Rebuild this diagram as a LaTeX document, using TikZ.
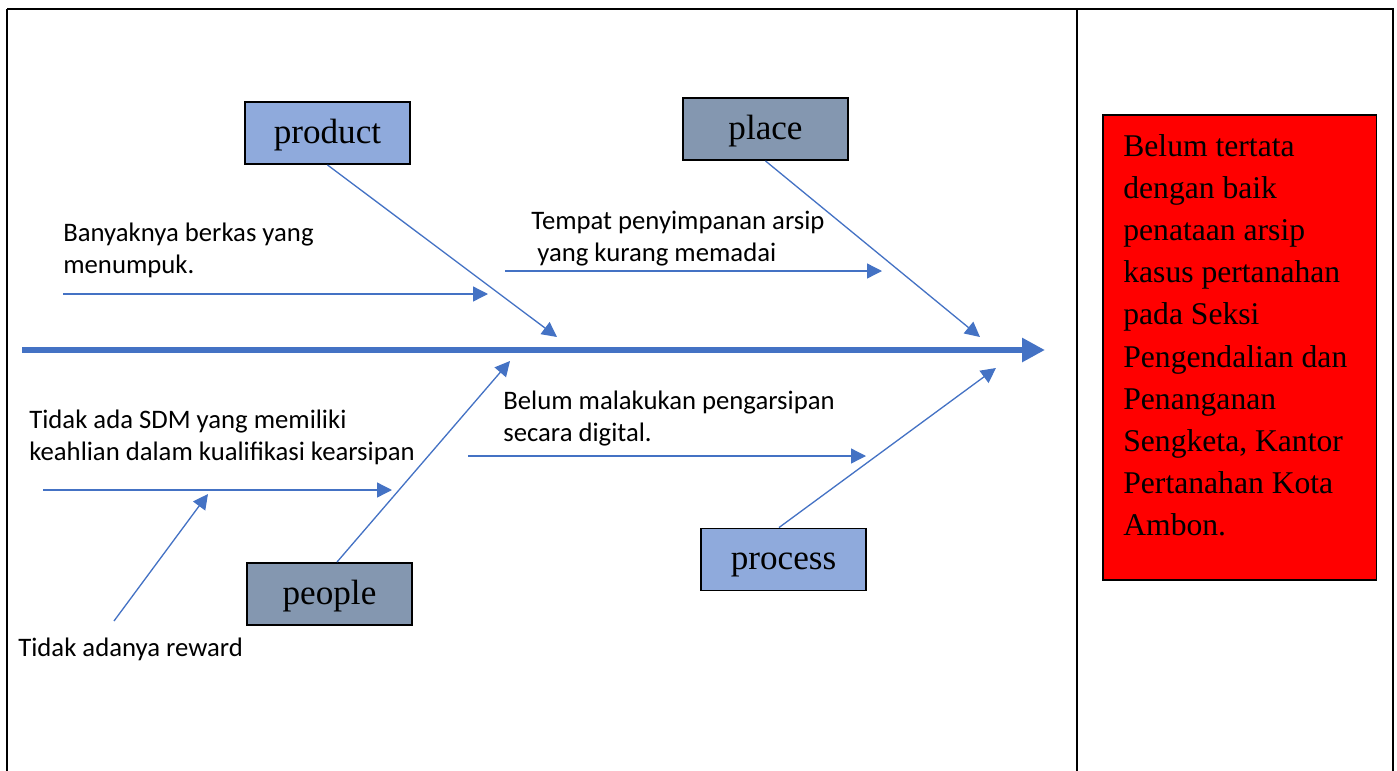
\documentclass[tikz,border=0pt]{standalone}
\usepackage{fontspec}
\setmainfont{Liberation Serif}
\newfontfamily\calibri{Carlito}
\usetikzlibrary{arrows.meta}
\definecolor{bonecol}{HTML}{4472C4}
\definecolor{lightcat}{HTML}{8FAADC}
\definecolor{darkcat}{HTML}{8497B0}

\begin{document}
\begin{tikzpicture}[x=0.02cm, y=-0.02cm]
        \tikzstyle{cause}=[rectangle,draw=black,line width=1.1pt,minimum width=3.3cm,minimum height=1.24cm,inner sep=0pt,text height=0.5cm,text depth=0.1cm,font=\fontsize{20}{24}\selectfont]
        \tikzstyle{bone}=[draw=bonecol,line width=0.75pt,-{Triangle[length=8.5pt,width=8.5pt]}]
        \tikzstyle{note}=[anchor=north west,inner sep=0pt,align=left,font=\calibri\fontsize{15.2}{18}\selectfont]

        % frame of the table
        \useasboundingbox (0,0) rectangle (1397,771);
        \draw[line width=1.7pt] (7,9) -- (1394,9);
        \draw[line width=1.1pt] (7,9) -- (7,771);
        \draw[line width=1.1pt] (1077,9) -- (1077,771);
        \draw[line width=1.1pt] (1393,9) -- (1393,771);

        % spine
        \coordinate (tail) at (22,350);
        \coordinate (head) at (1045,350);
        \draw[draw=bonecol,line width=3.7pt,-{Triangle[length=13pt,width=13pt]}] (tail) -- (head);

        % categories
        \node[cause, fill=lightcat] (product) at (327.5,133) {product};
        \node[cause, fill=darkcat] (place) at (765.5,129) {place};
        \node[cause, fill=darkcat] (people) at (329.5,594) {people};
        \node[cause, fill=lightcat] (process) at (783.5,559.5) {process};

        \coordinate (productend) at (557,337);
        \coordinate (placeend) at (980,337);
        \coordinate (peopleend) at (510,361);
        \coordinate (processend) at (996,368);

        \draw[bone] (product.south) -- (productend);
        \draw[bone] (place.south) -- (placeend);
        \draw[bone] ([xshift=0.15cm]people.north) -- (peopleend);
        \draw[bone] ([xshift=-0.09cm]process.north) -- (processend);

        % causes
        \node[note] (berkas) at (63,223) {Banyaknya berkas yang\\menumpuk.};
        \node[note] (tempat) at (531,211) {Tempat penyimpanan arsip\\\hspace{0.12cm}yang kurang memadai};
        \node[note] (sdm) at (29,410) {Tidak ada SDM yang memiliki\\keahlian dalam kualifikasi kearsipan};
        \node[note] (reward) at (18,638) {Tidak adanya reward};
        \node[note] (digital) at (503,391) {Belum malakukan pengarsipan\\secara digital.};

        \coordinate (berkas1) at (63,294);
        \coordinate (berkas2) at (488,294);
        \coordinate (tempat1) at (505,271);
        \coordinate (tempat2) at (882,271);
        \coordinate (sdm1) at (43,490);
        \coordinate (sdm2) at (392,490);
        \coordinate (reward1) at (114,621);
        \coordinate (reward2) at (208,494);
        \coordinate (digital1) at (468,456);
        \coordinate (digital2) at (866,456);

        \draw[bone] (berkas1) -- (berkas2);
        \draw[bone] (tempat1) -- (tempat2);
        \draw[bone] (sdm1) -- (sdm2);
        \draw[bone] (reward1) -- (reward2);
        \draw[bone] (digital1) -- (digital2);

        % effect
        \node[rectangle,draw=black,line width=1.1pt,fill=red,minimum width=5.48cm,minimum height=9.3cm,inner sep=0pt] (effect) at (1239.5,347.5) {};
        \node[anchor=north west,inner sep=0pt,align=left,font=\fontsize{18}{24}\selectfont] (effecttext) at (1123,134) {Belum tertata\\dengan baik\\penataan arsip\\kasus pertanahan\\pada Seksi\\Pengendalian dan\\Penanganan\\Sengketa, Kantor\\Pertanahan Kota\\Ambon.};
    \end{tikzpicture}
\end{document}
